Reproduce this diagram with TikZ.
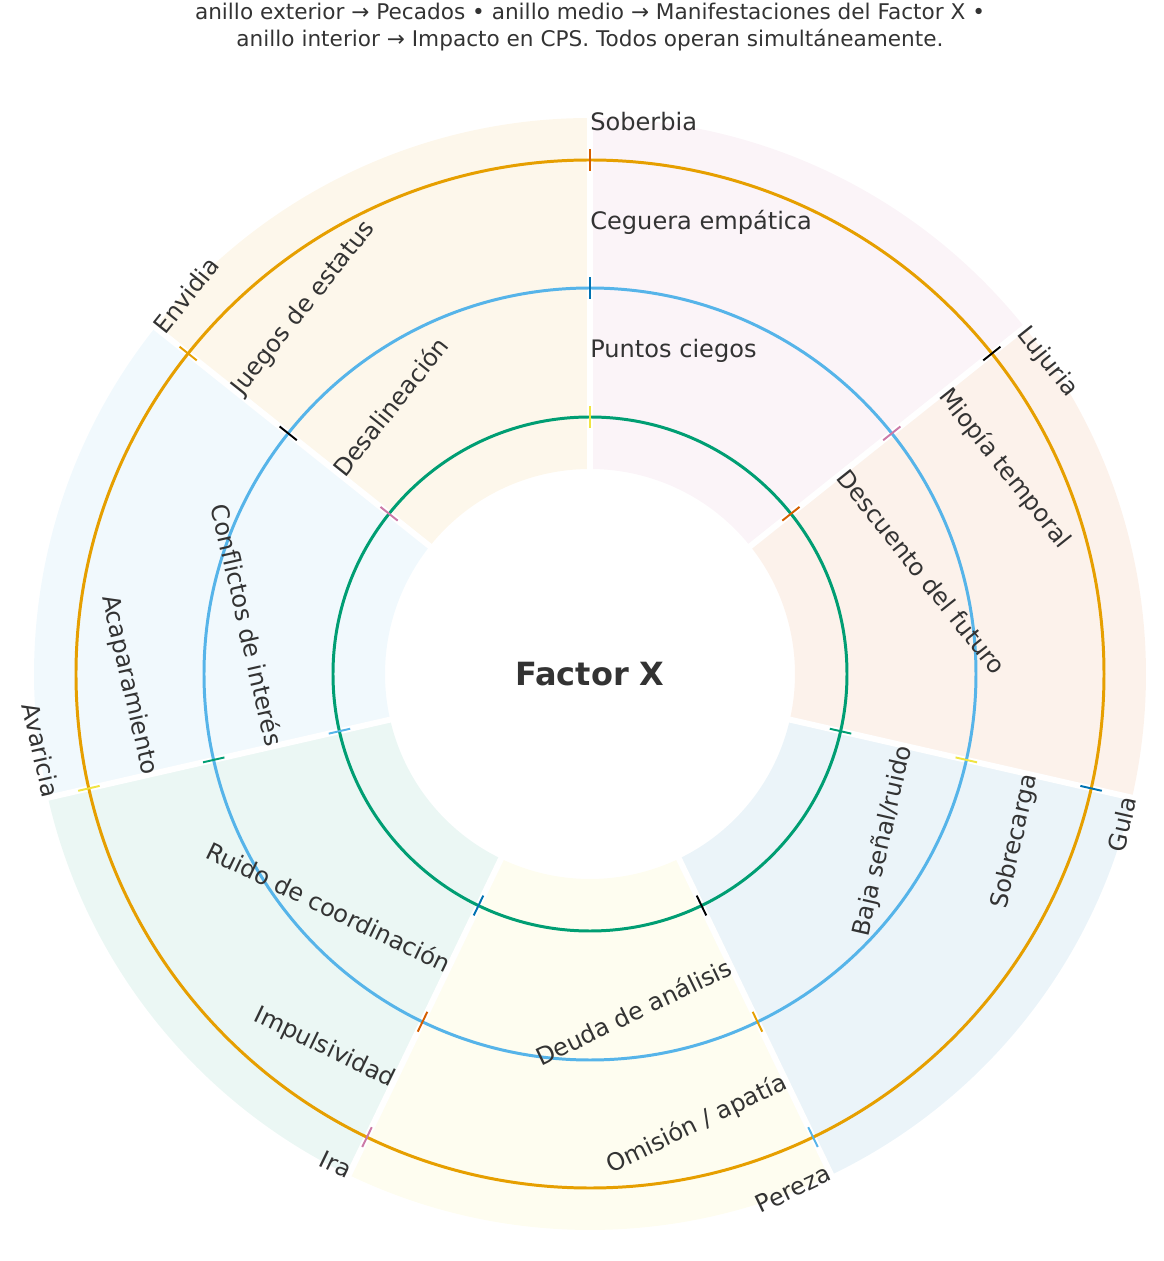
\documentclass[tikz,border=0pt]{standalone}
\usepackage{fontspec}
\setmainfont{DejaVu Sans}
\definecolor{okorange}{HTML}{E69F00}
\definecolor{oksky}{HTML}{56B4E9}
\definecolor{okgreen}{HTML}{009E73}
\definecolor{okyellow}{HTML}{F0E442}
\definecolor{okblue}{HTML}{0072B2}
\definecolor{okred}{HTML}{D55E00}
\definecolor{okpurple}{HTML}{CC79A7}
\definecolor{txt}{HTML}{333333}

\begin{document}
\begin{tikzpicture}[
  x=0.02cm, y=0.02cm,
  ring/.style={line width=1.7pt},
  tick/.style={line width=1.1pt},
  gap/.style={white, line width=3.4pt},
  lbl/.style={text=txt, inner sep=0pt, font=\fontsize{13.7}{16}\selectfont}
]
  \useasboundingbox (-590,-587) rectangle (573,674);

  \node[text=txt, align=center, font=\fontsize{12.3}{15.4}\selectfont] (titulo) at (0,647)
    {anillo exterior → Pecados • anillo medio → Manifestaciones del Factor X •\\
     anillo interior → Impacto en CPS. Todos operan simultáneamente.};

  % sectores
  \foreach \k/\fc in {0/okpurple,1/okred,2/okblue,3/okyellow,4/okgreen,5/oksky,6/okorange} {
    \pgfmathsetmacro\a{90-\k*360/7}
    \pgfmathsetmacro\b{\a-360/7}
    \fill[\fc!8!white] (\a:205) arc[start angle=\a, end angle=\b, radius=205]
      -- (\b:556) arc[start angle=\b, end angle=\a, radius=556] -- cycle;
  }
  \foreach \k in {0,...,6}
    \draw[gap] (90-\k*360/7:195) -- (90-\k*360/7:565);

  % anillos
  \draw[ring, okgreen] (0,0) circle[radius=257];
  \draw[ring, oksky] (0,0) circle[radius=386];
  \draw[ring, okorange] (0,0) circle[radius=514];

  % marcas
  \foreach \k/\ca/\cb/\cc in {0/okred/okblue/okyellow, 1/black/okpurple/okred,
      2/okblue/okyellow/okgreen, 3/oksky/okorange/black, 4/okpurple/okred/okblue,
      5/okyellow/okgreen/oksky, 6/okorange/black/okpurple} {
    \pgfmathsetmacro\a{90-\k*360/7}
    \draw[tick,\ca] (\a:503) -- (\a:525);
    \draw[tick,\cb] (\a:375) -- (\a:397);
    \draw[tick,\cc] (\a:246) -- (\a:268);
  }

  % textos
  \foreach \k/\rot/\anc/\pec/\man/\imp in {0/0/west/Soberbia/Ceguera empática/Puntos ciegos,
      1/-51.43/west/Lujuria/Miopía temporal/Descuento del futuro,
      2/77.14/east/Gula/Sobrecarga/{Baja señal/ruido},
      3/25.71/east/Pereza/{Omisión / apatía}/Deuda de análisis,
      4/-25.71/east/Ira/Impulsividad/Ruido de coordinación,
      5/-77.14/east/Avaricia/Acaparamiento/Conflictos de interés,
      6/51.43/west/Envidia/Juegos de estatus/Desalineación} {
    \pgfmathsetmacro\a{90-\k*360/7}
    \node[lbl, rotate=\rot, anchor=\anc] (pec\k) at (\a:552) {\pec};
    \node[lbl, rotate=\rot, anchor=\anc] (man\k) at (\a:452) {\man};
    \node[lbl, rotate=\rot, anchor=\anc] (imp\k) at (\a:323) {\imp};
  }

  \node[text=txt, font=\bfseries\fontsize{18.2}{22}\selectfont] (centro) at (0,0) {Factor X};
\end{tikzpicture}
\end{document}
